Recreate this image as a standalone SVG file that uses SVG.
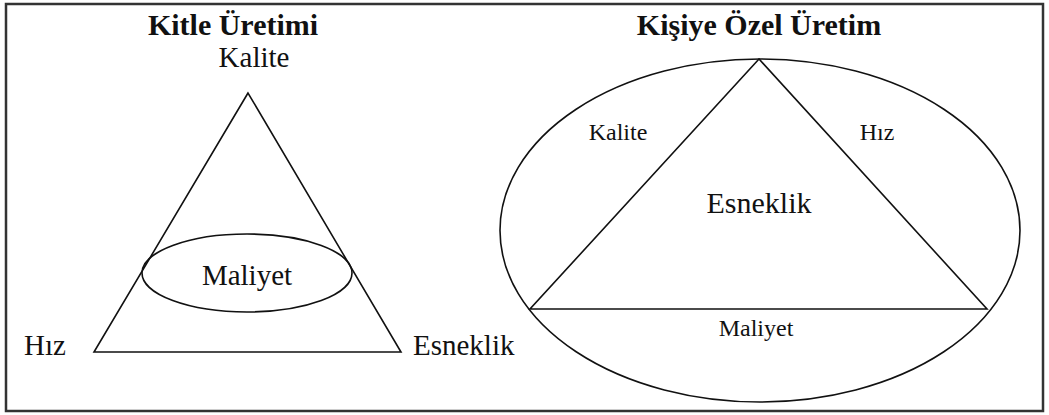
<svg xmlns="http://www.w3.org/2000/svg" width="1049" height="415" viewBox="0 0 1049 415">
<style>
.ln{fill:none;stroke:#111;stroke-width:1.6}
.t{font-family:"Liberation Serif","Times New Roman",serif;fill:#111}
.b{font-weight:bold}
</style>
<rect x="0" y="0" width="1049" height="415" fill="#fff"/>
<rect x="6" y="4" width="1037" height="407" fill="none" stroke="#333" stroke-width="2.5"/>
<g id="title-left"><text class="t b" x="233" y="35" font-size="30" text-anchor="middle">Kitle Üretimi</text></g>
<g id="title-right"><text class="t b" x="759" y="35" font-size="30" text-anchor="middle">Kişiye Özel Üretim</text></g>
<g id="left-triangle">
<polygon class="ln" points="248,93 94,352 401,352"/>
</g>
<g id="left-kalite"><text class="t" x="254" y="67" font-size="29" text-anchor="middle">Kalite</text></g>
<g id="left-hiz"><text class="t" x="24" y="355" font-size="29">Hız</text></g>
<g id="left-esneklik"><text class="t" x="413" y="355" font-size="29">Esneklik</text></g>
<g id="left-maliyet">
<ellipse class="ln" cx="247" cy="273" rx="105" ry="39" fill="#fff"/>
<text class="t" x="247" y="285" font-size="29" text-anchor="middle">Maliyet</text>
</g>
<g id="right-ellipse"><ellipse class="ln" cx="760" cy="230.5" rx="260" ry="171.5"/></g>
<g id="right-triangle"><polygon class="ln" points="759,59 530,309 987,309"/></g>
<g id="right-kalite"><text class="t" x="618" y="140" font-size="24" text-anchor="middle">Kalite</text></g>
<g id="right-hiz"><text class="t" x="877" y="140" font-size="24" text-anchor="middle">Hız</text></g>
<g id="right-esneklik"><text class="t" x="759" y="213" font-size="30" text-anchor="middle">Esneklik</text></g>
<g id="right-maliyet"><text class="t" x="756" y="336" font-size="24" text-anchor="middle">Maliyet</text></g>
<g id="connectors"></g>
</svg>
